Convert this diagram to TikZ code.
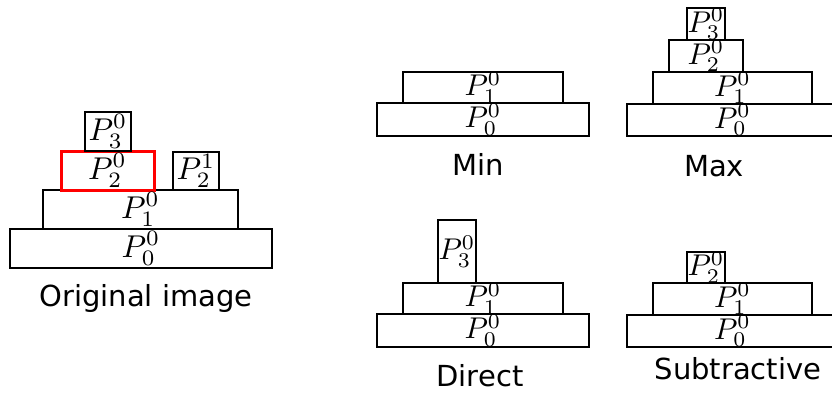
\documentclass[tikz,border=0pt]{standalone}
\usepackage{fontspec}
\newfontfamily\labfont{DejaVu Sans}
\newcommand\Plo[2]{\scalebox{3.15}{$P_{#1}^{#2}$}}
\newcommand\Pri[2]{\scalebox{3.0}{$P_{#1}^{#2}$}}
\tikzset{
  pbox/.style={draw=black, line width=1.4pt, inner sep=0pt, fill=white},
  redbox/.style={draw=red, line width=3pt, inner sep=0pt},
  plab/.style={inner sep=0pt},
  captext/.style={inner sep=0pt, anchor=base, font=\labfont\fontsize{29}{32}\selectfont}
}
\begin{document}
\begin{tikzpicture}[x=1pt,y=-1pt]
\useasboundingbox (0,0) rectangle (832,392);
\clip (0,0) rectangle (832,392);
% Original
\node[pbox, minimum width=262pt, minimum height=39pt] (o0) at (141,248.5) {};
\node[pbox, minimum width=195pt, minimum height=39pt] (o1) at (140.5,209.5) {};
\node[redbox, minimum width=93pt, minimum height=39pt] (o2) at (107.5,170.5) {};
\node[pbox, minimum width=46pt, minimum height=38pt] (o21) at (196,171) {};
\node[pbox, minimum width=46pt, minimum height=39pt] (o3) at (108,131.5) {};
\node[plab] (lo0) at (o0.center) {\Plo{0}{0}};
\node[plab] (lo1) at (o1.center) {\Plo{1}{0}};
\node[plab] (lo2) at (o2.center) {\Plo{2}{0}};
\node[plab] (lo21) at (o21.center) {\Plo{2}{1}};
\node[plab] (lo3) at (o3.center) {\Plo{3}{0}};
\node[captext] (co) at (146,306) {Original image};
% Min
\node[pbox, minimum width=160pt, minimum height=31pt] (m1) at (483,87.5) {};
\node[pbox, minimum width=212pt, minimum height=33pt] (m0) at (483,119.5) {};
\node[plab] (lm1) at (m1.center) {\Pri{1}{0}};
\node[plab] (lm0) at (m0.center) {\Pri{0}{0}};
\node[captext] (cm) at (478,175) {Min};
% Max
\node[pbox, minimum width=38pt, minimum height=32pt] (x3) at (706,24) {};
\node[pbox, minimum width=74pt, minimum height=32pt] (x2) at (706,56) {};
\node[pbox, minimum width=159pt, minimum height=32pt] (x1) at (732.5,88) {};
\node[pbox, minimum width=211pt, minimum height=32pt] (x0) at (732.5,120) {};
\node[plab] (lx3) at (x3.center) {\Pri{3}{0}};
\node[plab] (lx2) at (x2.center) {\Pri{2}{0}};
\node[plab] (lx1) at (x1.center) {\Pri{1}{0}};
\node[plab] (lx0) at (x0.center) {\Pri{0}{0}};
\node[captext] (cx) at (714,176) {Max};
% Direct
\node[pbox, minimum width=38pt, minimum height=63pt] (d3) at (457,251.5) {};
\node[pbox, minimum width=160pt, minimum height=31pt] (d1) at (483,298.5) {};
\node[pbox, minimum width=212pt, minimum height=33pt] (d0) at (483,330.5) {};
\node[plab] (ld3) at (d3.center) {\Pri{3}{0}};
\node[plab] (ld1) at (d1.center) {\Pri{1}{0}};
\node[plab] (ld0) at (d0.center) {\Pri{0}{0}};
\node[captext] (cd) at (480,386) {Direct};
% Subtractive
\node[pbox, minimum width=38pt, minimum height=31pt] (s2) at (706,267.5) {};
\node[pbox, minimum width=159pt, minimum height=32pt] (s1) at (732.5,299) {};
\node[pbox, minimum width=211pt, minimum height=32pt] (s0) at (732.5,331) {};
\node[plab] (ls2) at (s2.center) {\Pri{2}{0}};
\node[plab] (ls1) at (s1.center) {\Pri{1}{0}};
\node[plab] (ls0) at (s0.center) {\Pri{0}{0}};
\node[captext] (cs) at (738,379) {Subtractive};
\end{tikzpicture}
\end{document}
